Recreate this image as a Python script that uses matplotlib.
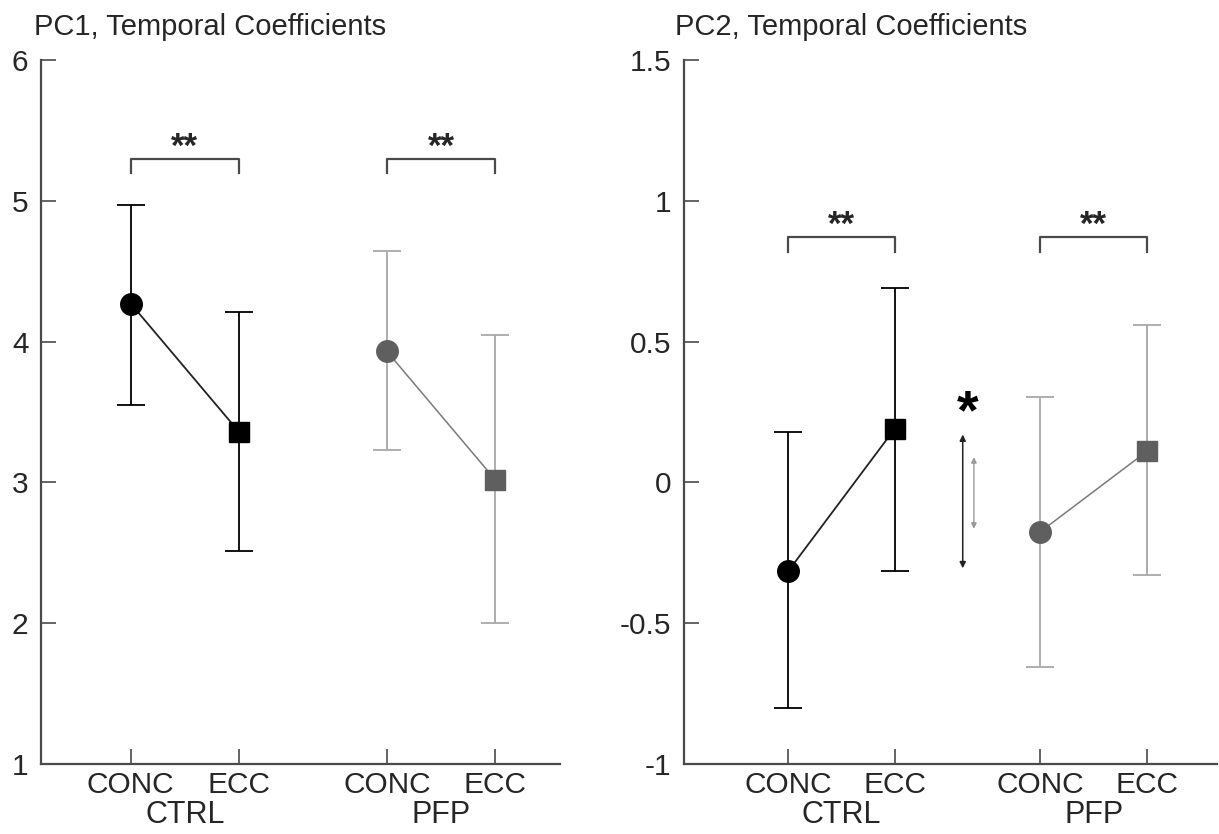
import matplotlib
matplotlib.use("Agg")
import matplotlib.pyplot as plt
from matplotlib.transforms import blended_transform_factory

plt.rcParams['font.family'] = ['Liberation Sans', 'DejaVu Sans']

# ---- data ----
conditions = ["CONC", "ECC"]
groups = ["CTRL", "PFP"]
xpos_ctrl = [1, 2]
xpos_pfp = [3.37, 4.37]

pc1_ctrl_mean = [4.27, 3.36]
pc1_ctrl_lo = [3.55, 2.51]
pc1_ctrl_hi = [4.97, 4.21]
pc1_pfp_mean = [3.93, 3.02]
pc1_pfp_lo = [3.23, 2.00]
pc1_pfp_hi = [4.64, 4.05]

pc2_ctrl_mean = [-0.315, 0.19]
pc2_ctrl_lo = [-0.80, -0.315]
pc2_ctrl_hi = [0.18, 0.69]
pc2_pfp_mean = [-0.175, 0.11]
pc2_pfp_lo = [-0.655, -0.33]
pc2_pfp_hi = [0.305, 0.56]

pc1_yticks = [1, 2, 3, 4, 5, 6]
pc2_yticks = [-1, -0.5, 0, 0.5, 1, 1.5]
pc2_yticklabels = ["-1", "-0.5", "0", "0.5", "1", "1.5"]

titles = ["PC1, Temporal Coefficients", "PC2, Temporal Coefficients"]

CTRL_C = "black"
PFP_MK = "#5f5f5f"
PFP_ERR = "#a8a8a8"
PFP_LINE = "#7a7a7a"
SPINE_C = "#4a4a4a"
TXT_C = "#262626"

fig = plt.figure(figsize=(12.19, 8.34), dpi=100)
W, H = 1219, 834
bottom = (H - 764) / H
top = (H - 60) / H
ax1 = fig.add_axes([41 / W, bottom, (560 - 41) / W, top - bottom])
ax2 = fig.add_axes([684 / W, bottom, (1217 - 684) / W, top - bottom])


def draw_group(ax, xs, mean, lo, hi, mk_color, err_color, line_color, lw_line):
    yerr = [[m - l for m, l in zip(mean, lo)], [h - m for m, h in zip(mean, hi)]]
    ax.errorbar(xs, mean, yerr=yerr, fmt='none', ecolor=err_color,
                elinewidth=1.3, capsize=10, capthick=1.3, zorder=2)
    ax.plot(xs, mean, color=line_color, lw=lw_line, zorder=3)
    ax.plot(xs[0], mean[0], 'o', ms=15.5, color=mk_color, mec=mk_color, zorder=4)
    ax.plot(xs[1], mean[1], 's', ms=14, color=mk_color, mec=mk_color, zorder=4)


def bracket(ax, x0, x1, ytop, ylow, star_y, text):
    ax.plot([x0, x0, x1, x1], [ylow, ytop, ytop, ylow], color=SPINE_C, lw=1.6,
            zorder=3, clip_on=False)
    ax.text((x0 + x1) / 2, star_y, text, ha='center', va='baseline',
            fontsize=25, fontweight='bold', color=TXT_C)


def style_axes(ax, ylim, yticks, yticklabels, xlim):
    ax.set_xlim(*xlim)
    ax.set_ylim(*ylim)
    for s in ['top', 'right']:
        ax.spines[s].set_visible(False)
    for s in ['left', 'bottom']:
        ax.spines[s].set_color(SPINE_C)
        ax.spines[s].set_linewidth(1.6)
    ax.set_yticks(yticks)
    ax.set_yticklabels(yticklabels)
    ax.set_xticks(xpos_ctrl + xpos_pfp)
    ax.set_xticklabels(conditions + conditions)
    ax.tick_params(axis='both', direction='in', length=11, width=1.2,
                   color=SPINE_C, labelsize=21.5, labelcolor=TXT_C)
    ax.tick_params(axis='y', pad=9)
    ax.tick_params(axis='x', pad=5)
    trans = blended_transform_factory(ax.transData, ax.transAxes)
    ax.text(sum(xpos_ctrl) / 2, -0.073, groups[0], transform=trans,
            ha='center', va='center', fontsize=22, color=TXT_C)
    ax.text(sum(xpos_pfp) / 2, -0.073, groups[1], transform=trans,
            ha='center', va='center', fontsize=22, color=TXT_C)


# ---- PC1 ----
draw_group(ax1, xpos_ctrl, pc1_ctrl_mean, pc1_ctrl_lo, pc1_ctrl_hi,
           CTRL_C, CTRL_C, "#222222", 1.3)
draw_group(ax1, xpos_pfp, pc1_pfp_mean, pc1_pfp_lo, pc1_pfp_hi,
           PFP_MK, PFP_ERR, PFP_LINE, 1.1)
style_axes(ax1, (1, 6), pc1_yticks, [str(t) for t in pc1_yticks], (0.17, 4.97))
bracket(ax1, xpos_ctrl[0], xpos_ctrl[1], 5.30, 5.20, 5.31, "**")
bracket(ax1, xpos_pfp[0], xpos_pfp[1], 5.30, 5.20, 5.31, "**")

# ---- PC2 ----
draw_group(ax2, xpos_ctrl, pc2_ctrl_mean, pc2_ctrl_lo, pc2_ctrl_hi,
           CTRL_C, CTRL_C, "#222222", 1.3)
draw_group(ax2, xpos_pfp, pc2_pfp_mean, pc2_pfp_lo, pc2_pfp_hi,
           PFP_MK, PFP_ERR, PFP_LINE, 1.1)
style_axes(ax2, (-1, 1.5), pc2_yticks, pc2_yticklabels, (0.02, 5.03))
bracket(ax2, xpos_ctrl[0], xpos_ctrl[1], 0.872, 0.818, 0.88, "**")
bracket(ax2, xpos_pfp[0], xpos_pfp[1], 0.872, 0.818, 0.88, "**")

# difference arrows between CONC and ECC means
ax2.annotate("", xy=(2.64, max(pc2_ctrl_mean) - 0.02), xytext=(2.64, min(pc2_ctrl_mean) + 0.01),
             arrowprops=dict(arrowstyle='<|-|>', color='#222222', lw=1.1,
                             mutation_scale=9, shrinkA=0, shrinkB=0))
ax2.annotate("", xy=(2.745, max(pc2_pfp_mean) - 0.02), xytext=(2.745, min(pc2_pfp_mean) + 0.01),
             arrowprops=dict(arrowstyle='<|-|>', color='#9a9a9a', lw=1.0,
                             mutation_scale=8, shrinkA=0, shrinkB=0))
ax2.text(2.69, 0.193, "*", ha='center', va='baseline', fontsize=40,
         fontweight='bold', color='black')

# titles
fig.text(34 / W, 1 - 27 / H, titles[0], ha='left', va='center', fontsize=21, color=TXT_C)
fig.text(675 / W, 1 - 27 / H, titles[1], ha='left', va='center', fontsize=21, color=TXT_C)

fig.savefig("out.png", dpi=100)
